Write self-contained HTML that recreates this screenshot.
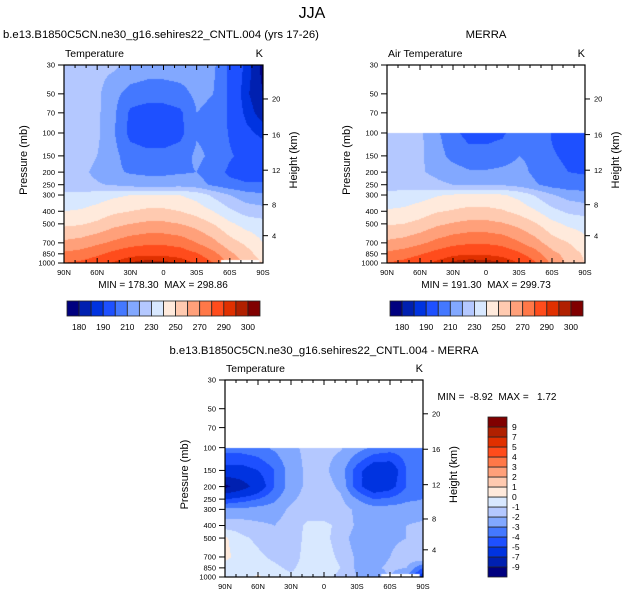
<!DOCTYPE html>
<html><head><meta charset="utf-8">
<style>
html,body{margin:0;padding:0;background:#fff;}
#wrap{position:relative;width:624px;height:600px;overflow:hidden;font-family:"Liberation Sans",sans-serif;}
canvas{position:absolute;left:0;top:0;}
svg{position:absolute;left:0;top:0;}
text{font-family:"Liberation Sans",sans-serif;fill:#000;}
</style></head>
<body>
<div id="wrap">
<canvas id="cv" width="624" height="600"></canvas>
<svg id="sv" width="624" height="600" xmlns="http://www.w3.org/2000/svg"></svg>
</div>
<script>
// ---- data ----
const lats=[90,75,60,45,30,15,0,-15,-30,-45,-60,-75,-90];
const plevs=[30,50,70,100,150,200,250,300,400,500,700,850,1000];
const latTicks=[90,60,30,0,-30,-60,-90];
const latTickLabels=["90N","60N","30N","0","30S","60S","90S"];
const presTicks=[30,50,70,100,150,200,250,300,400,500,700,850,1000];
const heightTicks=[4,8,12,16,20];
const tempLevels=[180,185,190,200,210,220,230,240,250,260,270,280,290,295,300];
const tempLabels=["180","190","210","230","250","270","290","300"];
const tempLabelIdx=[0,2,4,6,8,10,12,14];
const diffLevels=[-9,-7,-5,-4,-3,-2,-1,0,1,2,3,4,5,7,9];
const diffLabels=["-9","-7","-5","-4","-3","-2","-1","0","1","2","3","4","5","7","9"];
const colors=["#00007f","#0020b0","#0033e0","#1e50ff","#4478ff","#82a8ff","#b4c8ff","#d8e8ff","#ffeadc","#ffcab0","#ffa07a","#ff7848","#ff4c1c","#e03000","#b02000","#800000"];
const modelT=[
[224,224,223,222,218,215,215,215,214,212,198,188,178],
[225,224,222,213,206,205,205,207,212,210,198,186,180],
[225,224,222,212,198,195,195,198,210,208,198,188,182],
[225,224,222,211,197,194,194,197,209,207,199,192,188],
[225,224,220,213,205,203,203,205,212,208,201,197,195],
[223,222,218,212,209,208,208,209,210,205,198,196,196],
[224,223,221,219,216,215,215,216,214,208,203,201,201],
[232,233,235,238,240,241,241,240,236,228,220,214,212],
[240,241,244,248,250,252,252,250,246,240,232,226,224],
[248,249,252,257,260,262,262,260,256,250,242,236,234],
[262,264,268,272,276,278,278,276,270,263,254,248,240],
[272,274,278,283,287,288,288,286,281,273,262,254,245],
[280,282,286,291,296,298,297,295,289,280,268,258,250]];
const merraT=[
[null,null,null,null,null,null,null,null,null,null,null,null,null],
[null,null,null,null,null,null,null,null,null,null,null,null,null],
[null,null,null,null,null,null,null,null,null,null,null,null,null],
[224,222,222,212,203,196,196,198,208,210,199,196,196],
[229,223,222,214,207,204,204,206,210,208,201,198,198],
[228,223,221,218,214,211,211,212,213,208,203,200,199],
[226,225,224,222,220,219,219,219,216,211,206,204,204],
[233,234,236,239,241,242,242,241,237,229,221,216,214],
[241,242,245,249,251,253,253,251,247,241,233,228,226],
[249,250,253,258,261,263,263,261,257,251,243,238,236],
[262,264,268,273,277,279,279,277,271,264,255,250,243],
[272,275,279,284,288,289,289,287,282,274,263,256,248],
[280,283,287,292,297,299,298,296,290,281,268,258,250]];
const diffT=[
[null,null,null,null,null,null,null,null,null,null,null,null,null],
[null,null,null,null,null,null,null,null,null,null,null,null,null],
[null,null,null,null,null,null,null,null,null,null,null,null,null],
[-3.5,-3.5,-3.3,-2.8,-2.2,-1.8,-1.8,-1.9,-2.5,-3.2,-3.5,-3.5,-3.2],
[-5.5,-5.5,-5,-4,-2.5,-1.8,-1.8,-2.5,-4.5,-6,-6,-4,-3.5],
[-9.5,-8,-6,-4,-2.5,-1.8,-1.6,-2.2,-4.5,-6,-5.5,-4,-3.5],
[-5,-4.5,-4,-3.2,-2.2,-1.6,-1.5,-1.8,-3,-4,-3.8,-3.2,-3],
[-2.8,-2.8,-2.6,-2.5,-1.8,-1.5,-1.5,-1.6,-2.2,-2.5,-2.5,-2.5,-2.5],
[-1.5,-1.5,-1.8,-2,-1.5,-0.8,-0.8,-1.2,-2.2,-2.2,-2,-2,-1.8],
[0.2,-0.8,-1.2,-1.8,-1.4,-0.8,-0.7,-1.5,-2.5,-3,-2.2,-2,-1.5],
[0.3,-0.5,-0.8,-1.2,-1.5,-0.6,-0.6,-1.2,-2.2,-2.5,-2,-1.5,-1],
[-0.5,-0.5,-0.6,-0.8,-1.2,-0.5,-0.5,-1.0,-2.2,-2.2,-1.8,-2,-4],
[-0.6,-0.5,0.2,-0.6,-0.8,-0.6,-0.8,-1.2,-2,-2.5,-2,-3,-6]];

// ---- helpers ----
const SVGNS="http://www.w3.org/2000/svg";
const sv=document.getElementById('sv');
const ctx=document.getElementById('cv').getContext('2d');
function mk(tag,attrs,parent){const e=document.createElementNS(SVGNS,tag);for(const k in attrs)e.setAttribute(k,attrs[k]);(parent||sv).appendChild(e);return e;}
function txt(s,x,y,size,anchor,parent){const t=mk('text',{x:x,y:y,'font-size':size,'text-anchor':anchor||'start'},parent);t.textContent=s;return t;}
function xOf(lat,b){return b.x+(90-lat)/180*b.w;}
function yOf(p,b){return b.y+Math.log(p/30)/Math.log(1000/30)*b.h;}
function stdP(z){return z<=11?1013.25*Math.pow(1-0.0065*z*1000/288.15,5.2559):226.32*Math.exp(-(z-11)/6.3416);}
function binOf(v,levels){let k=0;for(const l of levels){if(v>=l)k++;}return k;}
function sample(field,lat,p){
  let fi=(90-lat)/15;let i=Math.min(Math.floor(fi),lats.length-2);let ti=fi-i;
  let j=0;while(j<plevs.length-2&&p>plevs[j+1])j++;
  let tj=(Math.log(p)-Math.log(plevs[j]))/(Math.log(plevs[j+1])-Math.log(plevs[j]));
  tj=Math.max(0,Math.min(1,tj));
  const a=field[j][i],b=field[j][i+1],c=field[j+1][i],d=field[j+1][i+1];
  if(a===null||b===null||c===null||d===null)return null;
  return (a*(1-ti)+b*ti)*(1-tj)+(c*(1-ti)+d*ti)*tj;
}
function fillPanel(field,b,levels){
  for(let px=b.x;px<b.x+b.w;px++){
    const lat=90-(px+0.5-b.x)/b.w*180;
    for(let py=b.y;py<b.y+b.h;py++){
      const p=30*Math.pow(1000/30,(py+0.5-b.y)/b.h);
      const v=sample(field,lat,p);
      if(v===null)continue;
      ctx.fillStyle=colors[binOf(v,levels)];
      ctx.fillRect(px,py,1,1);
    }
  }
}
function axes(b,name,title,left,minmax,mmx,mmy){
  const g=mk('g',{});
  
  
  const fr=mk('rect',{x:b.x,y:b.y,width:b.w,height:b.h,fill:'none',stroke:'#000','stroke-width':1.2},g);
  
  for(let lat=90;lat>=-90;lat-=10){
    const x=xOf(lat,b);const L=(lat%30===0)?5:3;
    mk('line',{x1:x,y1:b.y,x2:x,y2:b.y+L,stroke:'#000','stroke-width':1},g);
    mk('line',{x1:x,y1:b.y+b.h,x2:x,y2:b.y+b.h-L,stroke:'#000','stroke-width':1},g);
  }
  latTicks.forEach((lat,k)=>{const t=txt(latTickLabels[k],xOf(lat,b),b.y+b.h+12,7.5,'middle',g);});
  presTicks.forEach(p=>{const y=yOf(p,b);mk('line',{x1:b.x-6,y1:y,x2:b.x,y2:y,stroke:'#000','stroke-width':1},g);
    if(left){const t=txt(String(p),b.x-9,y+2.7,7.5,'end',g);}});
  heightTicks.forEach(z=>{const y=yOf(stdP(z),b);mk('line',{x1:b.x+b.w,y1:y,x2:b.x+b.w+5,y2:y,stroke:'#000','stroke-width':1},g);
    const t=txt(String(z),b.x+b.w+9,y+2.7,7.5,'start',g);});
  const tt=txt(title,b.x+1,b.y-8,10.5,'start',g);
  const tk=txt('K',b.x+b.w,b.y-8,11,'end',g);
  if(left){const yl=txt('Pressure (mb)',0,0,11,'middle',g);yl.setAttribute('transform','translate('+(b.x-37)+','+(b.y+b.h*0.48)+') rotate(-90)');}
  const hl=txt('Height (km)',0,0,11,'middle',g);hl.setAttribute('transform','translate('+(b.x+b.w+34)+','+(b.y+b.h*0.48)+') rotate(-90)');
  const mm=mk('text',{x:mmx,y:mmy,'font-size':10,'text-anchor':'middle'},g);mm.textContent=minmax;
  mm.style.whiteSpace='pre';
}
function hbar(x,y,w,h,name){
  const g=mk('g',{});
  const n=colors.length,bw=w/n;
  for(let k=0;k<n;k++){const r=mk('rect',{x:x+k*bw,y:y,width:bw,height:h,fill:colors[k],stroke:'#222','stroke-width':0.8},g);}
  tempLabelIdx.forEach((bi,k)=>{const t=txt(tempLabels[k],x+(bi+1)*bw,y+h+14,8.5,'middle',g);});
}
function vbar(x,y,w,h,name){
  const g=mk('g',{});
  const n=colors.length,bh=h/n;
  for(let k=0;k<n;k++){const r=mk('rect',{x:x,y:y+h-(k+1)*bh,width:w,height:bh,fill:colors[k],stroke:'#222','stroke-width':0.8},g);}
  diffLevels.forEach((l,k)=>{const t=txt(diffLabels[k],x+w+5,y+h-(k+1)*bh+3,8.5,'start',g);});
}

// ---- panels ----
const BL={x:64,y:65,w:199,h:198};
const BR={x:387,y:65,w:198,h:198};
const BB={x:225,y:380,w:198,h:197};
fillPanel(modelT,BL,tempLevels);
fillPanel(merraT,BR,tempLevels);
fillPanel(diffT,BB,diffLevels);
// below-surface (Antarctica) masks
ctx.fillStyle='#fff';
ctx.fillRect(xOf(-52,BL),BL.y+BL.h-3,xOf(-87,BL)-xOf(-52,BL),3);
ctx.fillRect(xOf(-52,BB),BB.y+BB.h-3,xOf(-87,BB)-xOf(-52,BB),3);

const t1=txt('JJA',312,18,16,'middle');
const t2=txt('b.e13.B1850C5CN.ne30_g16.sehires22_CNTL.004 (yrs 17-26)',3,38,11.3,'start');
const t3=txt('MERRA',486,38,11.3,'middle');
const t4=txt('b.e13.B1850C5CN.ne30_g16.sehires22_CNTL.004 - MERRA',324,354,11.3,'middle');

axes(BL,'model-panel','Temperature',true,'MIN = 178.30  MAX = 298.86',163,288);
axes(BR,'merra-panel','Air Temperature',true,'MIN = 191.30  MAX = 299.73',486,288);
axes(BB,'diff-panel','Temperature',true,'MIN =  -8.92  MAX =   1.72',497,400);
hbar(67,301,193,15,'model-colorbar');
hbar(390,301,193,15,'merra-colorbar');
vbar(488,417,19,160,'diff-colorbar');
</script>
</body></html>
